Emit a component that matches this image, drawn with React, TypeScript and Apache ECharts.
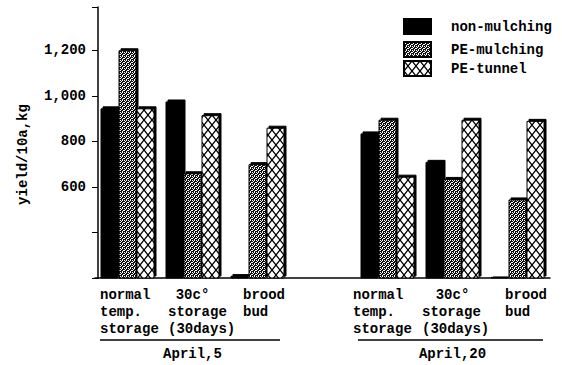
import React, { useEffect, useRef } from 'react';
import * as echarts from 'echarts';

const categories = [
  'normal\ntemp.\nstorage',
  '30c°\nstorage\n(30days)',
  'brood\nbud',
  '',
  'normal\ntemp.\nstorage',
  '30c°\nstorage\n(30days)',
  'brood\nbud',
];
const dateLabels = ['', 'April,5', '', '', '', 'April,20', ''];
const seriesNames = ['non-mulching', 'PE-mulching', 'PE-tunnel'];
const nonMulching = [945, 975, 210, null, 835, 710, 205];
const peMulching = [1200, 660, 700, null, 895, 635, 545];
const peTunnel = [945, 915, 860, null, 645, 895, 890];
const yLabelled = [600, 800, 1000, 1200];

const FONT = '"Liberation Mono", "DejaVu Sans Mono", monospace';

function makeMulch() {
  const c = document.createElement('canvas');
  c.width = 4;
  c.height = 4;
  const ctx = c.getContext('2d')!;
  ctx.fillStyle = '#111';
  ctx.fillRect(0, 0, 4, 4);
  ctx.fillStyle = '#fff';
  const whites = [[0, 0], [2, 0], [1, 1], [3, 2], [0, 2], [2, 3]];
  whites.forEach(([x, y]) => ctx.fillRect(x, y, 1, 1));
  return c;
}

function makeTunnel() {
  const c = document.createElement('canvas');
  c.width = 8;
  c.height = 10;
  const ctx = c.getContext('2d')!;
  ctx.fillStyle = '#fff';
  ctx.fillRect(0, 0, 8, 10);
  ctx.strokeStyle = '#000';
  ctx.lineWidth = 1.3;
  ctx.beginPath();
  ctx.moveTo(0, 0);
  ctx.lineTo(8, 10);
  ctx.moveTo(8, 0);
  ctx.lineTo(0, 10);
  ctx.stroke();
  return c;
}

export default function App() {
  const ref = useRef<HTMLDivElement>(null);
  useEffect(() => {
    if (!ref.current) return;
    const chart = echarts.init(ref.current, null, { renderer: 'svg' });
    const mulch = makeMulch();
    const tunnel = makeTunnel();
    const colors: any[] = [
      '#000',
      { image: mulch, repeat: 'repeat', imageWidth: 4, imageHeight: 4 },
      { image: tunnel, repeat: 'repeat', imageWidth: 8, imageHeight: 10 },
    ];
    const values = [nonMulching, peMulching, peTunnel];
    const base = { fontFamily: FONT, fontSize: 14, fontWeight: 'bold' as const, color: '#000', lineHeight: 17 };
    const rich: any = {
      g0: { ...base, width: 55, align: 'left' },
      g1: { ...base, width: 49, align: 'left' },
      g1c: { ...base, width: 49, align: 'center' },
      g2: { ...base, width: 29, align: 'left' },
      g3: { ...base },
      g4: { ...base, width: 69, align: 'left' },
      g5: { ...base, width: 61, align: 'left' },
      g5c: { ...base, width: 61, align: 'center' },
      g6: { ...base, width: 25, align: 'left' },
    };
    const legendTops = [13, 36, 55];
    chart.setOption({
      animation: false,
      backgroundColor: '#fff',
      grid: { left: 95, right: 12, top: 7, bottom: 87 },
      legend: seriesNames.map((n, i) => ({
        data: [n],
        left: 398,
        top: legendTops[i],
        icon: 'rect',
        itemWidth: 27,
        itemHeight: 15,
        textStyle: { ...base, padding: [0, 0, 0, 15] },
      })),
      xAxis: [
        {
          type: 'category',
          data: categories,
          axisLine: { lineStyle: { color: '#000', width: 1.5 } },
          axisTick: { alignWithLabel: true, length: 5, interval: (i: number) => i !== 3, lineStyle: { color: '#000' } },
          axisLabel: {
            interval: 0,
            margin: 8,
            ...base,
            formatter: (v: string, idx: number) =>
              v
                ? v
                    .split('\n')
                    .map((l, li) => `{g${idx}${li === 0 && (idx === 1 || idx === 5) ? 'c' : ''}|${l}}`)
                    .join('\n')
                : '',
            rich,
          },
        },
        {
          type: 'category',
          data: dateLabels,
          position: 'bottom',
          offset: 60,
          axisLine: { show: false },
          axisTick: { show: false },
          axisLabel: { interval: 0, margin: 7, ...base },
        },
      ],
      yAxis: {
        type: 'value',
        min: 200,
        max: 1390,
        interval: 200,
        offset: -3,
        name: 'yield/10a,kg',
        nameLocation: 'middle',
        nameRotate: 90,
        nameGap: 67,
        nameTextStyle: { ...base, padding: [0, 24, 0, 0] },
        splitLine: { show: false },
        axisLine: { show: true, lineStyle: { color: '#000', width: 1.5 } },
        axisTick: { show: true, length: 6, lineStyle: { color: '#000' } },
        axisLabel: {
          margin: 12,
          ...base,
          formatter: (v: number) => (yLabelled.includes(v) ? v.toLocaleString('en-US') : ''),
        },
      },
      graphic: [
        { type: 'line', shape: { x1: 100, y1: 340, x2: 280, y2: 340 }, style: { stroke: '#000', lineWidth: 1.5 } },
        { type: 'line', shape: { x1: 358, y1: 340, x2: 543, y2: 340 }, style: { stroke: '#000', lineWidth: 1.5 } },
      ],
      series: seriesNames.map((n, i) => ({
        name: n,
        type: 'bar',
        data: values[i],
        barWidth: 18,
        barGap: '0%',
        itemStyle: {
          color: colors[i],
          borderColor: '#000',
          borderWidth: 1,
          shadowColor: '#000',
          shadowBlur: 0,
          shadowOffsetX: 2,
          shadowOffsetY: -2,
        },
      })),
    });
    return () => chart.dispose();
  }, []);
  return <div ref={ref} style={{ position: 'fixed', left: 0, top: 0, width: 562, height: 365 }} />;
}
